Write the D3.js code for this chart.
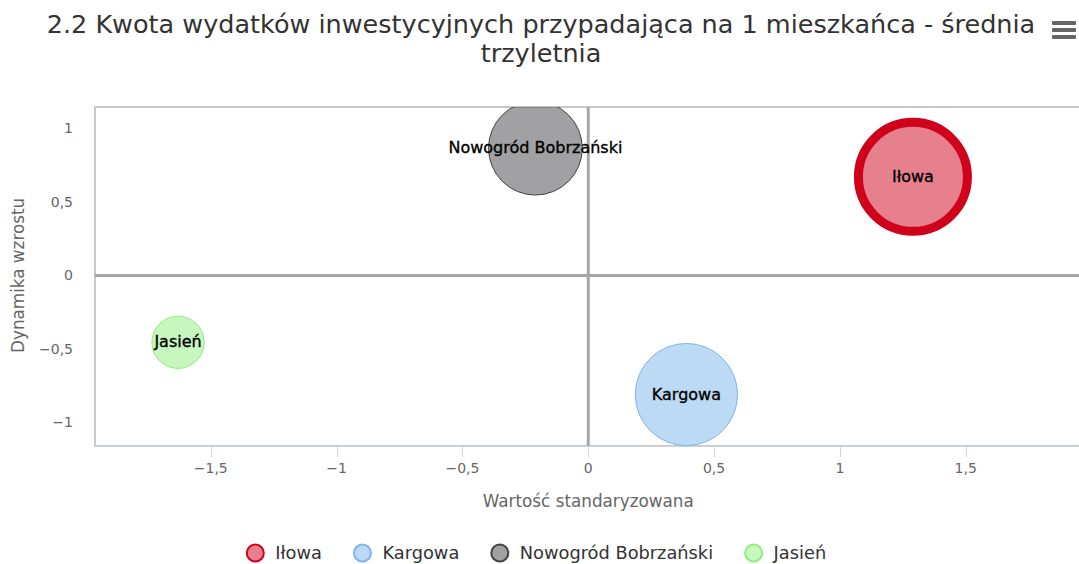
<!DOCTYPE html>
<meta charset="utf-8">
<style>
body { margin: 0; background: #fff; }
svg { font-family: "DejaVu Sans", Verdana, sans-serif; }
.tick-label { fill: #666; font-size: 14px; }
.axis-title { fill: #666; font-size: 16.8px; }
.bubble-label { fill: #000; font-size: 16px; stroke: #000; stroke-width: 0.35px; }
.legend-text { fill: #333; font-size: 17.8px; }
</style>
<body>
<script src="https://cdn.jsdelivr.net/npm/d3@7"></script>
<script>
var width = 1079,
    height = 564;

// data
var names = ["Iłowa", "Kargowa", "Nowogród Bobrzański", "Jasień"];
var xValues = [1.29, 0.39, -0.21, -1.63];
var yValues = [0.67, -0.81, 0.865, -0.455];
var zValues = [100, 88, 74, 23];
var colors = ["#d0021b", "#7cb5ec", "#434348", "#90ed7d"];
var xTicks = [-1.5, -1, -0.5, 0, 0.5, 1, 1.5];
var yTicks = [-1, -0.5, 0, 0.5, 1];
var titleLines = ["2.2 Kwota wydatków inwestycyjnych przypadająca na 1 mieszkańca - średnia", "trzyletnia"];

var points = names.map(function(n, i) {
  return { name: n, x: xValues[i], y: yValues[i], z: zValues[i], color: colors[i] };
});

var plot = { left: 95, top: 107, right: 1079, bottom: 446 };

var x = d3.scaleLinear().domain([-1.96, 1.95]).range([plot.left, plot.right]);
var y = d3.scaleLinear().domain([-1.16, 1.145]).range([plot.bottom, plot.top]);
var r = d3.scaleSqrt().domain([0, 100]).range([0, 54.5]);

var locale = d3.formatLocale({ decimal: ",", thousands: " ", grouping: [3], currency: ["", " zł"], minus: "\u2212" });
var fmt = locale.format("");

var svg = d3.select("body").append("svg")
  .attr("width", width)
  .attr("height", height);

// title
svg.append("text")
  .attr("x", 541)
  .attr("y", 33)
  .attr("text-anchor", "middle")
  .attr("fill", "#333")
  .style("font-size", "25.5px")
  .selectAll("tspan")
  .data(titleLines)
  .enter().append("tspan")
    .attr("x", 541)
    .attr("dy", function(d, i) { return i ? 29 : 0; })
    .text(function(d) { return d; });

// menu icon
svg.append("g")
  .selectAll("rect")
  .data([0, 1, 2])
  .enter().append("rect")
    .attr("x", 1052)
    .attr("y", function(d) { return 21 + d * 7; })
    .attr("width", 24)
    .attr("height", 4)
    .attr("rx", 1)
    .attr("fill", "#666");

// plot border
svg.append("rect")
  .attr("x", plot.left)
  .attr("y", plot.top)
  .attr("width", plot.right - plot.left + 2)
  .attr("height", plot.bottom - plot.top)
  .attr("fill", "none")
  .attr("stroke", "#c8c8c8")
  .attr("stroke-width", 2);

// x axis line + ticks
svg.append("line")
  .attr("x1", plot.left).attr("x2", plot.right)
  .attr("y1", plot.bottom + 0.5).attr("y2", plot.bottom + 0.5)
  .attr("stroke", "#ccd6eb");

svg.append("g").selectAll("line")
  .data(xTicks)
  .enter().append("line")
    .attr("x1", function(d) { return Math.round(x(d)) + 0.5; })
    .attr("x2", function(d) { return Math.round(x(d)) + 0.5; })
    .attr("y1", plot.bottom)
    .attr("y2", plot.bottom + 11)
    .attr("stroke", "#ccd6eb");

svg.append("g").selectAll("text")
  .data(xTicks)
  .enter().append("text")
    .attr("class", "tick-label")
    .attr("x", function(d) { return x(d); })
    .attr("y", 473)
    .attr("text-anchor", "middle")
    .text(function(d) { return fmt(d); });

svg.append("g").selectAll("text")
  .data(yTicks)
  .enter().append("text")
    .attr("class", "tick-label")
    .attr("x", 73)
    .attr("y", function(d) { return y(d) + 5; })
    .attr("text-anchor", "end")
    .text(function(d) { return fmt(d); });

// axis titles
svg.append("text")
  .attr("class", "axis-title")
  .attr("x", x(0))
  .attr("y", 507)
  .attr("text-anchor", "middle")
  .text("Wartość standaryzowana");

svg.append("text")
  .attr("class", "axis-title")
  .attr("transform", "translate(24," + y(0) + ") rotate(-90)")
  .attr("text-anchor", "middle")
  .text("Dynamika wzrostu");

// clip
svg.append("clipPath").attr("id", "clip")
  .append("rect")
  .attr("x", plot.left).attr("y", plot.top)
  .attr("width", plot.right - plot.left).attr("height", plot.bottom - plot.top);

var g = svg.append("g").attr("clip-path", "url(#clip)");

// zero lines
g.append("line")
  .attr("x1", x(0)).attr("x2", x(0))
  .attr("y1", plot.top).attr("y2", plot.bottom)
  .attr("stroke", "#a6a6a6").attr("stroke-width", 3);
g.append("line")
  .attr("x1", plot.left).attr("x2", plot.right)
  .attr("y1", y(0)).attr("y2", y(0))
  .attr("stroke", "#a6a6a6").attr("stroke-width", 3);

// bubbles
g.selectAll("circle")
  .data(points)
  .enter().append("circle")
    .attr("cx", function(d) { return x(d.x); })
    .attr("cy", function(d) { return y(d.y); })
    .attr("r", function(d) { return r(d.z); })
    .attr("fill", function(d) { return d.color; })
    .attr("fill-opacity", 0.5)
    .attr("stroke", function(d) { return d.color; })
    .attr("stroke-width", function(d, i) { return i === 0 ? 9 : 1; });

svg.append("g").selectAll("text")
  .data(points)
  .enter().append("text")
    .attr("class", "bubble-label")
    .attr("x", function(d) { return x(d.x); })
    .attr("y", function(d) { return y(d.y) + 5; })
    .attr("text-anchor", "middle")
    .text(function(d) { return d.name; });

// legend
var legend = svg.append("g").attr("transform", "translate(0,553)");
var items = legend.selectAll("g")
  .data(points)
  .enter().append("g");
items.append("circle")
  .attr("cx", 9)
  .attr("r", 8.5)
  .attr("fill", function(d) { return d.color; })
  .attr("fill-opacity", 0.5)
  .attr("stroke", function(d) { return d.color; })
  .attr("stroke-width", 2);
items.append("text")
  .attr("class", "legend-text")
  .attr("x", 29)
  .attr("y", 6)
  .text(function(d) { return d.name; });

var widths = [];
items.each(function() { widths.push(this.getBBox().width); });
var gap = 32;
var total = d3.sum(widths) + gap * (widths.length - 1);
var pos = 536 - total / 2;
items.attr("transform", function(d, i) {
  var t = "translate(" + pos + ",0)";
  pos += widths[i] + gap;
  return t;
});
</script>
</body>
